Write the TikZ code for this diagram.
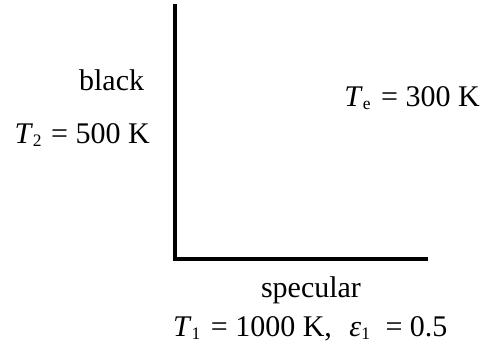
\documentclass[tikz,border=0pt]{standalone}
\usepackage{fontspec}
\setmainfont{Liberation Serif}
\newcommand{\subx}[1]{\raisebox{-3pt}{\fontsize{17.5}{17.5}\selectfont #1}}
\begin{document}
\begin{tikzpicture}[x=1pt,y=-1pt,
  lbl/.style={inner sep=0pt,font=\fontsize{30}{36}\selectfont},
  wall/.style={line width=4.7pt,line join=miter}]
\useasboundingbox (0,0) rectangle (482,347);
\coordinate (top) at (175,4);
\coordinate (corner) at (175,259);
\coordinate (right) at (428,259);
\draw[wall] (top) -- (corner) -- (right);
\node[lbl,anchor=base] (black) at (111.6,91) {black};
\node[lbl,anchor=base east] (t2) at (150,144) {\textit{T}\subx{2}\hspace{2pt} = 500 K};
\node[lbl,anchor=base east] (te) at (480,107) {\textit{T}\subx{e}\hspace{3pt} = 300 K};
\node[lbl,anchor=base west] (t1) at (173,337) {\textit{T}\subx{1}\hspace{3pt} = 1000 K,\hspace{10pt} \textit{ε}\subx{1}\hspace{8pt} = 0.5};
\node[lbl,anchor=base] (spec) at (311,298) {specular};
\end{tikzpicture}
\end{document}
